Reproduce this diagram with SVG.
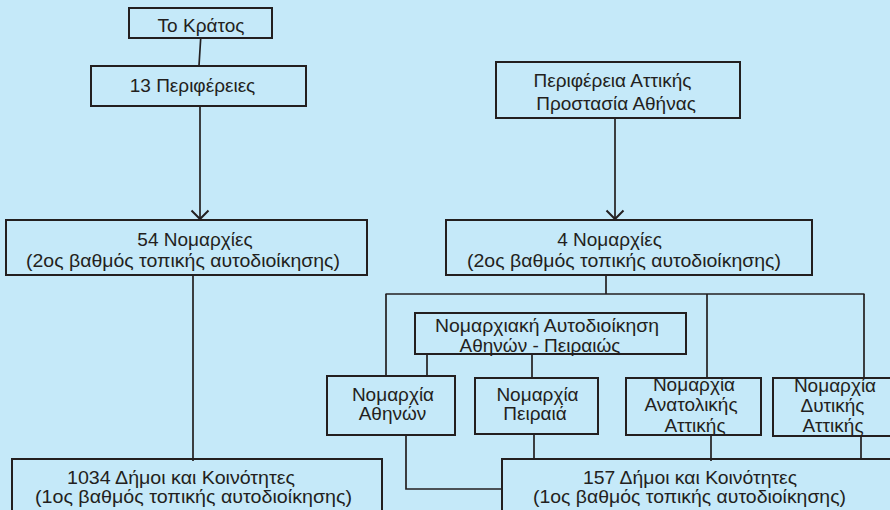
<svg xmlns="http://www.w3.org/2000/svg" width="890" height="510" viewBox="0 0 890 510">
<defs>
<marker id="arr" markerWidth="20" markerHeight="20" refX="10" refY="10" orient="auto" markerUnits="userSpaceOnUse">
<polyline points="1.5,1.5 10,10 1.5,18.5" fill="none" stroke="#231f20" stroke-width="2"/>
</marker>
<style>
.box{fill:none;stroke:#231f20;stroke-width:2}
.con{fill:none;stroke:#231f20;stroke-width:1.7}
text{font-family:"Liberation Sans",Arial,sans-serif;font-size:19px;fill:#231f20;text-anchor:middle}
</style>
</defs>
<rect x="0" y="0" width="890" height="510" fill="#c5e9f9"/>
<g id="connectors">
<line class="con" x1="200.7" y1="38" x2="199" y2="66"/>
<line class="con" x1="200" y1="106" x2="200" y2="219" marker-end="url(#arr)"/>
<line class="con" x1="615" y1="118" x2="615" y2="219" marker-end="url(#arr)"/>
<line class="con" x1="193" y1="275" x2="193" y2="461"/>
<line class="con" x1="606" y1="275" x2="606" y2="294"/>
<line class="con" x1="385.5" y1="294" x2="864.5" y2="294"/>
<line class="con" x1="386" y1="294" x2="386" y2="376"/>
<line class="con" x1="707" y1="294" x2="707" y2="378"/>
<line class="con" x1="864" y1="294" x2="864" y2="378"/>
<line class="con" x1="427" y1="354" x2="427" y2="376"/>
<line class="con" x1="532" y1="354" x2="532" y2="378"/>
<polyline class="con" points="406,435 406,489 502,489"/>
<line class="con" x1="534" y1="434" x2="534" y2="459"/>
<line class="con" x1="711" y1="435" x2="711" y2="461"/>
<line class="con" x1="861" y1="436" x2="861" y2="459"/>
</g>
<g id="kratos">
<rect class="box" x="129" y="8" width="143" height="30"/>
<text x="201" y="32">Το Κράτος</text>
</g>
<g id="perifereies">
<rect class="box" x="91" y="66" width="215" height="40"/>
<text x="192.5" y="92">13 Περιφέρειες</text>
</g>
<g id="perifereia-attikis">
<rect class="box" x="496" y="62" width="244" height="56"/>
<text x="612.5" y="87">Περιφέρεια Αττικής</text>
<text x="616" y="110">Προστασία Αθήνας</text>
</g>
<g id="nomarchies-54">
<rect class="box" x="6" y="220" width="361" height="55"/>
<text x="195" y="246">54 Νομαρχίες</text>
<text x="183" y="267" textLength="314" lengthAdjust="spacingAndGlyphs">(2ος βαθμός τοπικής αυτοδιοίκησης)</text>
</g>
<g id="nomarchies-4">
<rect class="box" x="446" y="220" width="366" height="55"/>
<text x="609.5" y="246">4 Νομαρχίες</text>
<text x="624" y="267" textLength="314" lengthAdjust="spacingAndGlyphs">(2ος βαθμός τοπικής αυτοδιοίκησης)</text>
</g>
<g id="nomarchiaki">
<rect class="box" x="415" y="313" width="271" height="41"/>
<text x="547" y="332" textLength="224" lengthAdjust="spacingAndGlyphs">Νομαρχιακή Αυτοδιοίκηση</text>
<text x="540" y="352">Αθηνών - Πειραιώς</text>
</g>
<g id="athinon">
<rect class="box" x="327" y="376" width="128" height="59"/>
<text x="393" y="401">Νομαρχία</text>
<text x="392.5" y="420">Αθηνών</text>
</g>
<g id="peiraia">
<rect class="box" x="475" y="378" width="123" height="56"/>
<text x="537.5" y="401">Νομαρχία</text>
<text x="535" y="420">Πειραιά</text>
</g>
<g id="anatolikis">
<rect class="box" x="626" y="378" width="135" height="57"/>
<text x="694" y="391">Νομαρχία</text>
<text x="691" y="411">Ανατολικής</text>
<text x="695" y="431.5">Αττικής</text>
</g>
<g id="dytikis">
<rect class="box" x="773" y="378" width="130" height="58"/>
<text x="835" y="392">Νομαρχία</text>
<text x="832.5" y="412">Δυτικής</text>
<text x="833" y="432">Αττικής</text>
</g>
<g id="dimoi-1034">
<rect class="box" x="12" y="459" width="370" height="60"/>
<text x="181" y="484" textLength="228" lengthAdjust="spacingAndGlyphs">1034 Δήμοι και Κοινότητες</text>
<text x="193.5" y="503" textLength="317" lengthAdjust="spacingAndGlyphs">(1ος βαθμός τοπικής αυτοδιοίκησης)</text>
</g>
<g id="dimoi-157">
<rect class="box" x="502" y="459" width="400" height="60"/>
<text x="690" y="483.5" textLength="214" lengthAdjust="spacingAndGlyphs">157 Δήμοι και Κοινότητες</text>
<text x="689.5" y="503" textLength="313" lengthAdjust="spacingAndGlyphs">(1ος βαθμός τοπικής αυτοδιοίκησης)</text>
</g>
</svg>
